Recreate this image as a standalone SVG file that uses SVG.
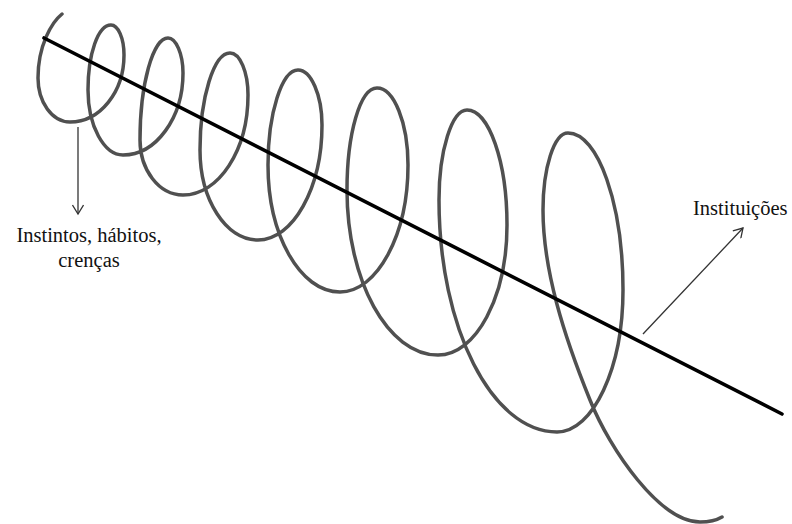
<svg xmlns="http://www.w3.org/2000/svg" width="792" height="524" viewBox="0 0 792 524">
  <style>
    .spiral { fill: none; stroke: #505050; stroke-width: 3.5; stroke-linecap: round; stroke-linejoin: round; }
    .axis { fill: none; stroke: #000; stroke-width: 3.6; stroke-linecap: round; }
    .conn { fill: none; stroke: #333; stroke-width: 1.3; }
    .lbl { font-family: "Liberation Serif", "Times New Roman", serif; font-size: 20.5px; fill: #111; }
  </style>
  <defs>
    <marker id="ah" markerWidth="12" markerHeight="12" refX="10" refY="6" orient="auto" markerUnits="userSpaceOnUse">
      <path d="M1,0.5 L10,6 L1,11.5" fill="none" stroke="#333" stroke-width="1.3"/>
    </marker>
  </defs>
  <rect width="792" height="524" fill="#fff"/>

  <g id="spiral">
    <path class="spiral" d="M62,14 C52,22 38,45 38,78
      C38,102 52,122 70,122
      C100,122 124,92 124,55
      C124,38 118,25 111,25
      C98,25 88,54 88,90
      C88,126 104,155 123,155
      C156,155 183,118 183,73
      C183,54 176,38 168,38
      C153,38 140,84 140,140
      C140,170 159,195 183,195
      C219,195 248,150 248,95
      C248,72 240,53 230,53
      C214,53 200,97 200,150
      C200,200 226,240 258,240
      C293,240 322,188 322,125
      C322,95 311,70 298,70
      C282,70 268,113 268,165
      C268,235 300,292 340,292
      C377,292 408,235 408,165
      C408,123 394,88 377,88
      C360,88 347,134 347,190
      C347,281 388,355 438,355
      C476,355 507,297 507,225
      C507,162 489,110 467,110
      C452,110 439,150 439,200
      C439,328 492,432 557,432
      C593,432 623,368 623,290
      C623,204 598,133 568,133
      C554,133 543,168 543,210
      C543,270 564,336 590,400
      C610,450 660,522 700,522
      C711,522 717,520 722,517"/>
  </g>

  <g id="axis">
    <line class="axis" x1="44" y1="38" x2="782" y2="414"/>
  </g>

  <g id="connectors">
    <line class="conn" x1="78" y1="127" x2="78" y2="214" marker-end="url(#ah)"/>
    <line class="conn" x1="643" y1="334" x2="743" y2="228" marker-end="url(#ah)"/>
  </g>

  <g id="label-instintos">
    <text class="lbl" x="89" y="242" text-anchor="middle">Instintos, hábitos,</text>
    <text class="lbl" x="89" y="267" text-anchor="middle">crenças</text>
  </g>
  <g id="label-instituicoes">
    <text class="lbl" x="693" y="215">Instituições</text>
  </g>
</svg>
